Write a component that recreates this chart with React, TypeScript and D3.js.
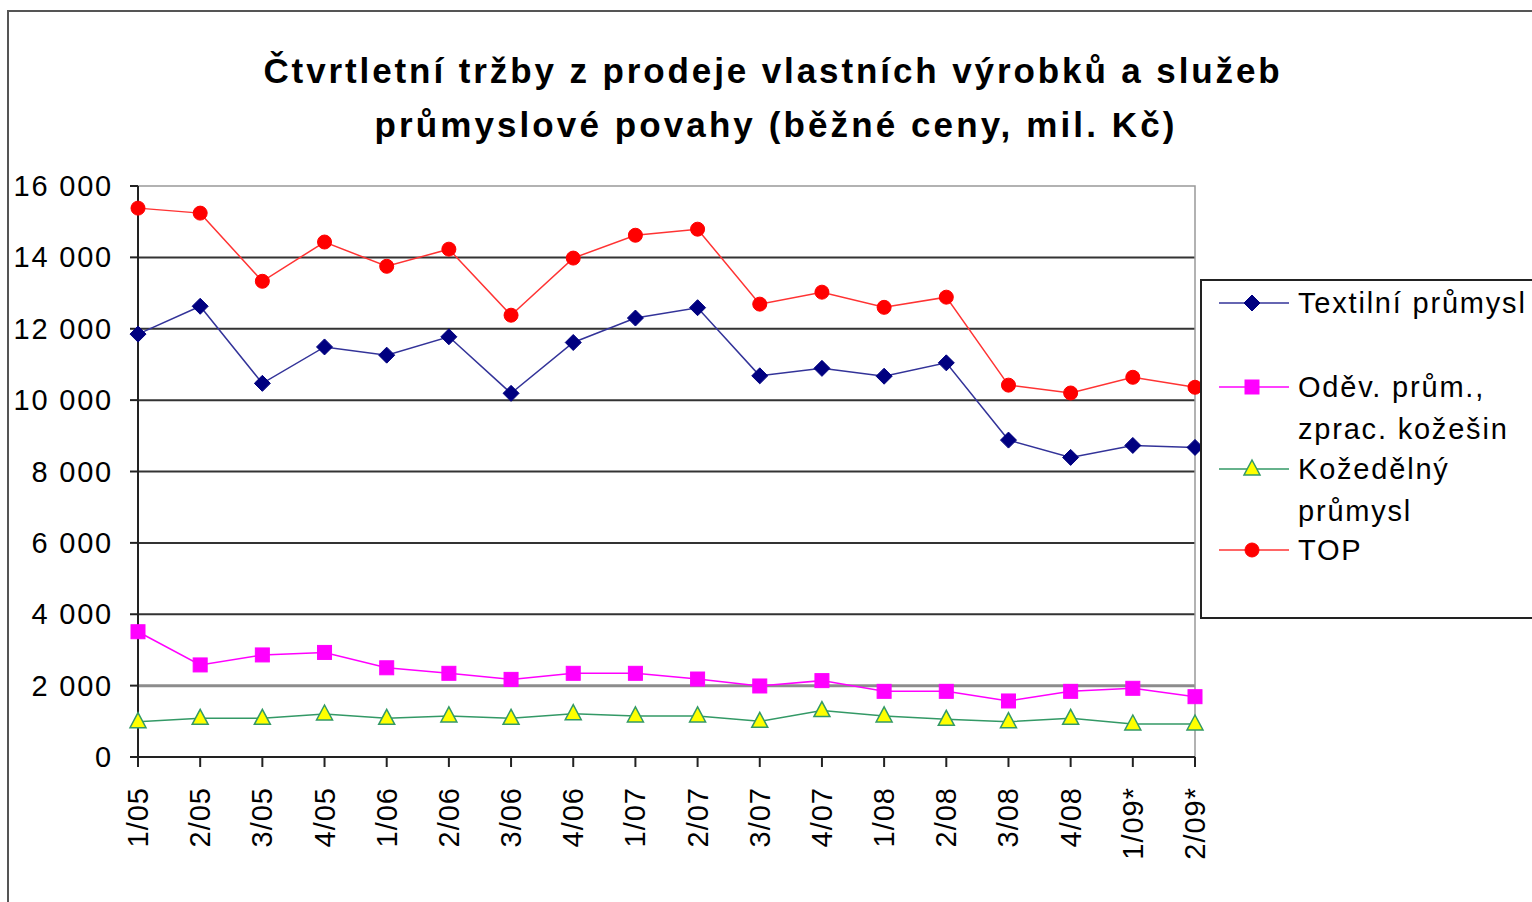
import * as d3 from 'd3';

const width = 1532;
const height = 902;
const plot = { left: 138, right: 1195, top: 186, bottom: 757 };

const quarters = [
  '1/05', '2/05', '3/05', '4/05', '1/06', '2/06', '3/06', '4/06', '1/07',
  '2/07', '3/07', '4/07', '1/08', '2/08', '3/08', '4/08', '1/09*', '2/09*',
];
const textil = [
  11850, 12630, 10470, 11490, 11260, 11775, 10190, 11615, 12300, 12590, 10680,
  10890, 10670, 11045, 8880, 8395, 8730, 8675,
];
const odev = [
  3510, 2580, 2860, 2930, 2500, 2345, 2175, 2345, 2345, 2185, 1990, 2140, 1840,
  1840, 1570, 1840, 1925, 1690,
];
const kozedelny = [
  990, 1085, 1085, 1205, 1085, 1150, 1085, 1215, 1150, 1150, 1000, 1300, 1150,
  1055, 990, 1085, 925, 925,
];
const top = [
  15380, 15240, 13330, 14430, 13750, 14230, 12380, 13980, 14620, 14790, 12690,
  13025, 12600, 12885, 10420, 10200, 10640, 10360,
];
const yTicks = [0, 2000, 4000, 6000, 8000, 10000, 12000, 14000, 16000];

const series = [
  { name: ['Textilní průmysl'], values: textil, line: '#333399', fill: '#000080', stroke: '#000080', shape: 'diamond', ly: 303 },
  { name: ['Oděv. prům.,', 'zprac. kožešin'], values: odev, line: '#ff00ff', fill: '#ff00ff', stroke: '#ff00ff', shape: 'square', ly: 387 },
  { name: ['Kožedělný', 'průmysl'], values: kozedelny, line: '#339966', fill: '#ffff00', stroke: '#339966', shape: 'triangle', ly: 469 },
  { name: ['TOP'], values: top, line: '#ff3333', fill: '#ff0000', stroke: '#ff0000', shape: 'circle', ly: 550 },
];

const font = '"Liberation Sans", Arial, sans-serif';

function Marker({ shape, x, y, fill, stroke }: { shape: string; x: number; y: number; fill: string; stroke: string }) {
  if (shape === 'diamond')
    return <path d={`M${x},${y - 8}L${x + 8},${y}L${x},${y + 8}L${x - 8},${y}Z`} fill={fill} stroke={stroke} />;
  if (shape === 'square')
    return <rect x={x - 7} y={y - 7} width={14} height={14} fill={fill} stroke={stroke} />;
  if (shape === 'triangle')
    return <path d={`M${x},${y - 9}L${x + 8},${y + 6}L${x - 8},${y + 6}Z`} fill={fill} stroke={stroke} strokeWidth={1.5} />;
  return <circle cx={x} cy={y} r={7} fill={fill} stroke={stroke} />;
}

export default function App() {
  const x = d3.scalePoint(quarters, [plot.left, plot.right]);
  const y = d3.scaleLinear([0, 16000], [plot.bottom, plot.top]);
  const line = d3.line<number>((_, i) => x(quarters[i])!, (d) => y(d));
  const fmt = (v: number) => d3.format(',')(v).replace(/,/g, ' ');

  return (
    <svg width={width} height={height} style={{ position: 'absolute', left: 0, top: 0, background: '#fff' }} fontFamily={font}>
      {/* outer frame */}
      <path d={`M8,${height}V11H${width}`} fill="none" stroke="#555" strokeWidth={2} />

      <text x={773} y={83} textAnchor="middle" fontSize={35} fontWeight={700} letterSpacing={2.9}>
        Čtvrtletní tržby z prodeje vlastních výrobků a služeb
      </text>
      <text x={776} y={137} textAnchor="middle" fontSize={35} fontWeight={700} letterSpacing={3.1}>
        průmyslové povahy (běžné ceny, mil. Kč)
      </text>

      {/* grid */}
      {yTicks.slice(1, -1).map((t) => (
        <line key={t} x1={plot.left} x2={plot.right} y1={y(t)} y2={y(t)} stroke={t === 2000 ? '#8c8c8c' : '#333'} strokeWidth={t === 2000 ? 3 : 2} />
      ))}
      <path d={`M${plot.left},${plot.top}H${plot.right}V${plot.bottom}`} fill="none" stroke="#999" strokeWidth={1.5} />

      {/* axes */}
      <line x1={plot.left} x2={plot.left} y1={plot.top} y2={plot.bottom} stroke="#222" strokeWidth={2} />
      <line x1={plot.left - 8} x2={plot.right} y1={plot.bottom} y2={plot.bottom} stroke="#222" strokeWidth={2} />
      {yTicks.map((t) => (
        <g key={t}>
          <line x1={plot.left - 8} x2={plot.left} y1={y(t)} y2={y(t)} stroke="#222" strokeWidth={2} />
          <text x={113} y={y(t) + 10} textAnchor="end" fontSize={29} letterSpacing={1.8}>
            {fmt(t)}
          </text>
        </g>
      ))}
      {quarters.map((q) => (
        <g key={q}>
          <line x1={x(q)} x2={x(q)} y1={plot.bottom} y2={plot.bottom + 10} stroke="#222" strokeWidth={2} />
          <text transform={`translate(${x(q)! + 10},787) rotate(-90)`} textAnchor="end" fontSize={29} letterSpacing={1}>
            {q}
          </text>
        </g>
      ))}

      {/* series */}
      {series.map((s) => (
        <g key={s.name[0]}>
          <path d={line(s.values) ?? ''} fill="none" stroke={s.line} strokeWidth={1.5} />
          {s.values.map((v, i) => (
            <Marker key={i} shape={s.shape} x={x(quarters[i])!} y={y(v)} fill={s.fill} stroke={s.stroke} />
          ))}
        </g>
      ))}

      {/* legend */}
      <rect x={1201} y={280} width={400} height={338} fill="#fff" stroke="#222" strokeWidth={2} />
      {series.map((s) => (
        <g key={s.name[0]}>
          <line x1={1219} x2={1289} y1={s.ly} y2={s.ly} stroke={s.line} strokeWidth={1.5} />
          <Marker shape={s.shape} x={1252} y={s.ly} fill={s.fill} stroke={s.stroke} />
          {s.name.map((n, j) => (
            <text key={n} x={1298} y={s.ly + 10 + j * 42} fontSize={29} letterSpacing={1.8}>
              {n}
            </text>
          ))}
        </g>
      ))}
    </svg>
  );
}
